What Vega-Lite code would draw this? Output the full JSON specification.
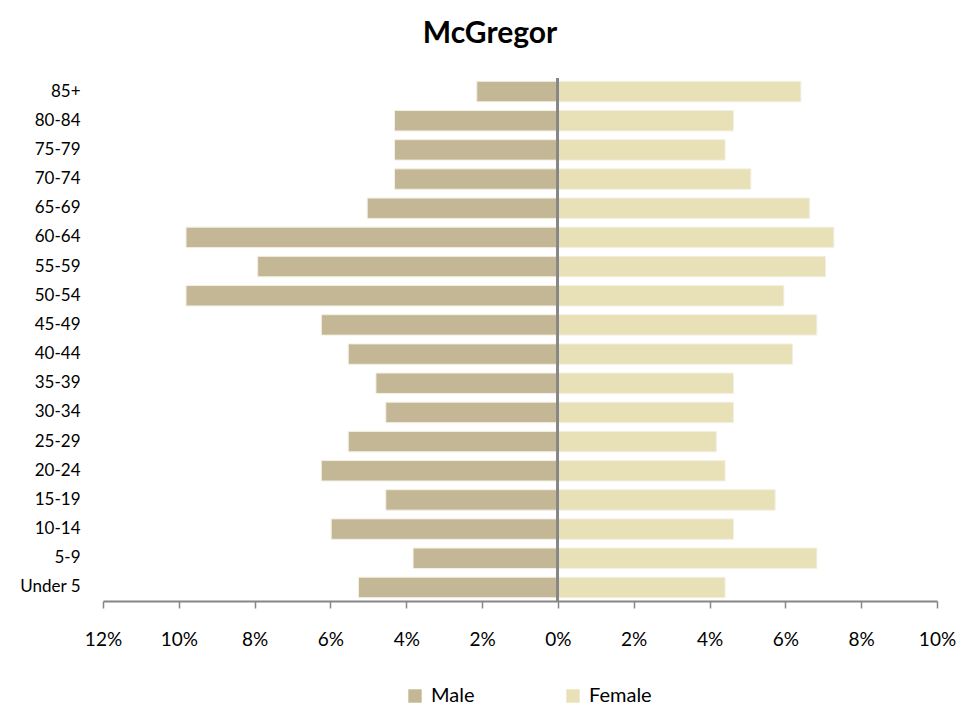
{
  "$schema": "https://vega.github.io/schema/vega-lite/v6.json",
  "width": 834,
  "height": 523,
  "autosize": "none",
  "padding": {"left": 103, "top": 78, "right": 42, "bottom": 112},
  "background": "white",
  "title": {
    "text": "McGregor",
    "font": "Lato",
    "fontSize": 30,
    "fontWeight": "bold",
    "color": "#000000",
    "anchor": "middle",
    "dx": -30,
    "offset": 28
  },
  "config": {
    "view": {"stroke": null},
    "font": "Lato"
  },
  "data": {
    "values": [
      {"age": "85+", "sex": "Male", "value": -2.14},
      {"age": "80-84", "sex": "Male", "value": -4.31},
      {"age": "75-79", "sex": "Male", "value": -4.31},
      {"age": "70-74", "sex": "Male", "value": -4.31},
      {"age": "65-69", "sex": "Male", "value": -5.03},
      {"age": "60-64", "sex": "Male", "value": -9.81},
      {"age": "55-59", "sex": "Male", "value": -7.92},
      {"age": "50-54", "sex": "Male", "value": -9.81},
      {"age": "45-49", "sex": "Male", "value": -6.24},
      {"age": "40-44", "sex": "Male", "value": -5.53},
      {"age": "35-39", "sex": "Male", "value": -4.80},
      {"age": "30-34", "sex": "Male", "value": -4.54},
      {"age": "25-29", "sex": "Male", "value": -5.53},
      {"age": "20-24", "sex": "Male", "value": -6.24},
      {"age": "15-19", "sex": "Male", "value": -4.54},
      {"age": "10-14", "sex": "Male", "value": -5.98},
      {"age": "5-9", "sex": "Male", "value": -3.82},
      {"age": "Under 5", "sex": "Male", "value": -5.26},
      {"age": "85+", "sex": "Female", "value": 6.41},
      {"age": "80-84", "sex": "Female", "value": 4.63},
      {"age": "75-79", "sex": "Female", "value": 4.41},
      {"age": "70-74", "sex": "Female", "value": 5.09},
      {"age": "65-69", "sex": "Female", "value": 6.64},
      {"age": "60-64", "sex": "Female", "value": 7.28},
      {"age": "55-59", "sex": "Female", "value": 7.06},
      {"age": "50-54", "sex": "Female", "value": 5.96},
      {"age": "45-49", "sex": "Female", "value": 6.83},
      {"age": "40-44", "sex": "Female", "value": 6.19},
      {"age": "35-39", "sex": "Female", "value": 4.63},
      {"age": "30-34", "sex": "Female", "value": 4.63},
      {"age": "25-29", "sex": "Female", "value": 4.18},
      {"age": "20-24", "sex": "Female", "value": 4.41},
      {"age": "15-19", "sex": "Female", "value": 5.73},
      {"age": "10-14", "sex": "Female", "value": 4.63},
      {"age": "5-9", "sex": "Female", "value": 6.83},
      {"age": "Under 5", "sex": "Female", "value": 4.41}
    ]
  },
  "layer": [
    {
      "mark": {"type": "bar", "stroke": "#f3efe2", "strokeWidth": 1},
      "encoding": {
        "y": {
          "field": "age",
          "type": "nominal",
          "sort": null,
          "scale": {"paddingInner": 0.3, "paddingOuter": 0.115},
          "axis": {
            "title": null,
            "domain": false,
            "ticks": false,
            "tickSize": 0,
            "labelPadding": 23,
            "labelFontSize": 17,
            "labelColor": "#000000",
            "labelFont": "Lato"
          }
        },
        "x": {
          "field": "value",
          "type": "quantitative",
          "scale": {"domain": [-12, 10], "nice": false, "zero": false},
          "axis": {
            "title": null,
            "values": [-12, -10, -8, -6, -4, -2, 0, 2, 4, 6, 8, 10],
            "labelExpr": "abs(datum.value) + '%'",
            "labelFlush": false,
            "labelOverlap": false,
            "grid": false,
            "domainColor": "#868686",
            "domainWidth": 2,
            "tickColor": "#868686",
            "tickWidth": 1.5,
            "tickSize": 7,
            "labelPadding": 22,
            "labelFontSize": 19,
            "labelColor": "#000000",
            "labelFont": "Lato"
          }
        },
        "color": {
          "field": "sex",
          "type": "nominal",
          "scale": {"domain": ["Male", "Female"], "range": ["#C4B795", "#E8E1B8"]},
          "legend": {
            "title": null,
            "orient": "none",
            "direction": "horizontal",
            "legendX": 302,
            "legendY": 608,
            "padding": 0,
            "symbolType": "square",
            "symbolSize": 180,
            "symbolStrokeWidth": 0,
            "labelFontSize": 20,
            "labelOffset": 6,
            "columnPadding": 88,
            "labelColor": "#000000",
            "labelFont": "Lato"
          }
        }
      }
    },
    {
      "mark": {"type": "rule", "color": "#868686", "strokeWidth": 2},
      "encoding": {"x": {"datum": 0}}
    }
  ]
}
